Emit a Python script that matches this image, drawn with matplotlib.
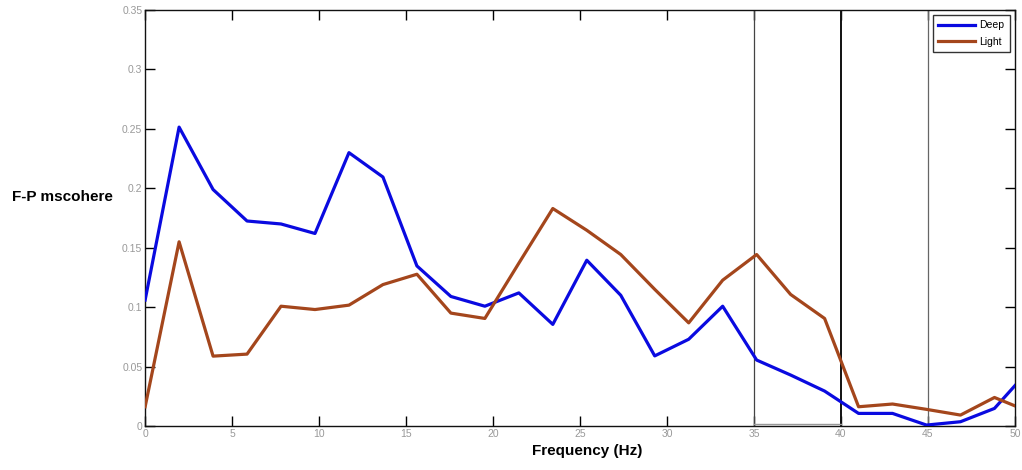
import numpy as np
import matplotlib.pyplot as plt
from matplotlib.ticker import FuncFormatter

# frequency bins (~1.953 Hz spacing), last bin falls past the 50 Hz limit
freq = np.arange(27) * 1.953125

deep = [0.106, 0.2515, 0.199, 0.1725, 0.170, 0.162, 0.230, 0.2095, 0.1347,
        0.109, 0.1008, 0.112, 0.0855, 0.1395, 0.110, 0.059, 0.073, 0.1008,
        0.0555, 0.0429, 0.0294, 0.0106, 0.0106, 0.0008, 0.0036, 0.0148, 0.0466]
light = [0.0162, 0.155, 0.0588, 0.0605, 0.1008, 0.098, 0.1017, 0.119, 0.1277,
         0.095, 0.0905, 0.137, 0.183, 0.1647, 0.1443, 0.115, 0.0868, 0.1227,
         0.1443, 0.1107, 0.0905, 0.0162, 0.0185, 0.014, 0.0092, 0.024, 0.0123]

plt.rcParams['font.family'] = ['Liberation Sans', 'DejaVu Sans']

fig = plt.figure(figsize=(10.22, 4.7), dpi=100)
ax = fig.add_axes([0.142, 0.0936, 0.851, 0.885])

ax.plot(freq, deep, color='#0a0ae0', lw=2.3, label='Deep', zorder=3)
ax.plot(freq, light, color='#a4461c', lw=2.3, label='Light', zorder=3)

# band markers
ax.axvline(35, color='#444444', lw=0.9, zorder=2)
ax.axvline(40, color='#111111', lw=1.4, zorder=2)
ax.axvline(45, color='#666666', lw=0.9, zorder=2)
ax.plot([35, 40], [0.0017, 0.0017], color='#999999', lw=1.0, zorder=2)

ax.set_xlim(0, 50)
ax.set_ylim(0, 0.35)
ax.set_xticks(np.arange(0, 51, 5))
ax.set_yticks(np.arange(0, 0.351, 0.05))
ax.yaxis.set_major_formatter(FuncFormatter(lambda v, p: '%g' % round(v, 2)))

ax.tick_params(direction='in', length=7, width=1, top=True, right=True,
               labelsize=7.5, labelcolor='#999999', pad=2)
for s in ax.spines.values():
    s.set_linewidth(1.0)
    s.set_color('#111111')

ax.set_xlabel('Frequency (Hz)', fontsize=11, fontweight='bold', va='top')
ax.xaxis.set_label_coords(0.508, -0.043)
ax.set_ylabel('F-P mscohere', fontsize=11, fontweight='bold', rotation=0,
              va='center', ha='center')
ax.yaxis.set_label_coords(-0.095, 0.55)

leg = ax.legend(loc='upper right', fontsize=7.5, frameon=True, fancybox=False,
                handlelength=3.6, borderpad=0.5, labelspacing=0.6,
                handletextpad=0.4, borderaxespad=0.5)
leg.get_frame().set_edgecolor('black')
leg.get_frame().set_linewidth(1.0)

fig.savefig('out.png', dpi=100)
